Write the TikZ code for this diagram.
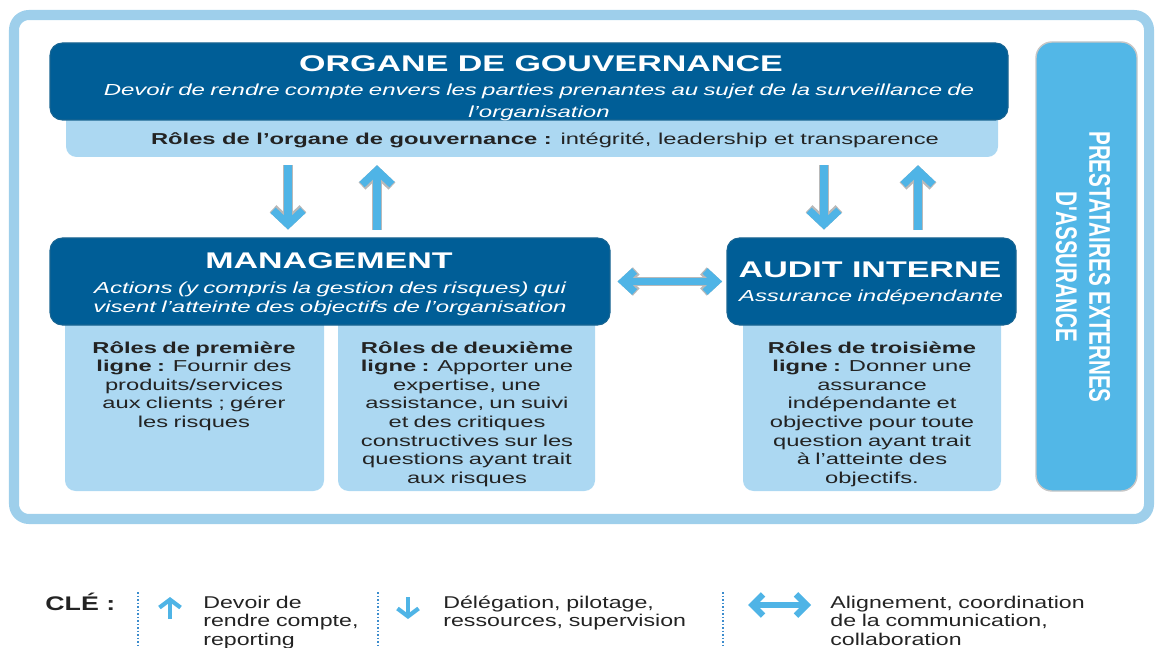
\documentclass[tikz,border=0pt]{standalone}
\usepackage{fontspec}
\newfontfamily\widesans[FakeStretch=1.5]{Liberation Sans}
\newfontfamily\keysans[FakeStretch=1.36]{Liberation Sans}
\newfontfamily\tallsans[FakeStretch=0.69]{Liberation Sans}
\usetikzlibrary{arrows.meta,positioning,fit}

\definecolor{govblue}{RGB}{0,94,151}
\definecolor{rolesblue}{RGB}{172,216,242}
\definecolor{frameblue}{RGB}{158,207,235}
\definecolor{arrowblue}{RGB}{79,180,230}
\definecolor{extblue}{RGB}{82,183,231}
\definecolor{keyline}{RGB}{60,140,205}
\definecolor{inkgrey}{RGB}{35,35,35}

\tikzset{
  framebox/.style={draw=frameblue,line width=5.7pt,rounded corners=8.5pt},
  darkbox/.style={fill=govblue,draw=govblue!80!gray,line width=0.6pt,
    rounded corners=7pt,inner sep=0pt},
  rolebox/.style={fill=rolesblue,rounded corners=6pt,inner sep=0pt},
  extbox/.style={fill=extblue,draw=gray!45,line width=0.8pt,
    rounded corners=9pt,inner sep=0pt},
  headtxt/.style={text=white,inner sep=0pt,anchor=base,
    font=\widesans\bfseries\fontsize{12.9}{15}\selectfont},
  subtxt/.style={text=white,inner sep=0pt,anchor=base,align=center,
    text width=#1,font=\widesans\itshape\fontsize{9.1}{12}\selectfont},
  bandtxt/.style={text=inkgrey,inner sep=0pt,anchor=base,
    font=\widesans\fontsize{9}{11}\selectfont},
  roletxt/.style={text=inkgrey,inner sep=0pt,anchor=base,align=center,
    text width=5.2cm,font=\widesans\fontsize{9}{10.6}\selectfont},
  keytxt/.style={text=inkgrey,inner sep=0pt,anchor=base west,align=left,
    text width=6cm,font=\keysans\fontsize{9.7}{10.8}\selectfont},
  bigarrow/.style={draw=arrowblue,line width=4.3pt,
    preaction={draw=gray!55,line width=5.6pt}},
  vtip/.style={-{Straight Barb[sharp,length=8pt,width=17pt]}},
  htips/.style={{Straight Barb[sharp,length=6.5pt,width=12pt]}-{Straight Barb[sharp,length=6.5pt,width=12pt]}},
  keyarrow/.style={draw=arrowblue,line width=2.4pt,
    -{Straight Barb[sharp,length=4.5pt,width=12pt]}},
  keysep/.style={draw=keyline,line width=0.9pt,dash pattern=on 1pt off 1pt}
}

\begin{document}
\begin{tikzpicture}[x=0.02cm,y=-0.02cm]
  \useasboundingbox (0,0) rectangle (1155,648);
  \draw[framebox] (14,15) rectangle (1149,519);

  % organe de gouvernance
  \node[rolebox,fit={(66,100) (998,157)}] (band) {};
  \node[darkbox,fit={(50,43) (1008,120)}] (gov) {};
  \node[headtxt] (govtitle) at (541,72) {ORGANE DE GOUVERNANCE};
  \node[subtxt=19cm] (govsub) at (539,96)
    {Devoir de rendre compte envers les parties prenantes au sujet de la surveillance de\\
     l’organisation};
  \node[bandtxt] (bandtext) at (545,145)
    {\textbf{Rôles de l’organe de gouvernance :} intégrité, leadership et transparence};

  % roles
  \node[rolebox,fit={(65,300) (324,491)}] (role1) {};
  \node[rolebox,fit={(338,300) (595,491)}] (role2) {};
  \node[rolebox,fit={(743,300) (1001,491)}] (role3) {};

  % management et audit
  \node[darkbox,fit={(50,238) (610,325)}] (mgmt) {};
  \node[headtxt] (mgmttitle) at (329,269) {MANAGEMENT};
  \node[subtxt=11cm,font=\widesans\itshape\fontsize{9.1}{10.4}\selectfont] (mgmtsub) at (330,294)
    {Actions (y compris la gestion des risques) qui\\
     visent l’atteinte des objectifs de l’organisation};
  \node[darkbox,fit={(727,238) (1016,325)}] (audit) {};
  \node[headtxt] (audittitle) at (870,277) {AUDIT INTERNE};
  \node[subtxt=6cm] (auditsub) at (871,301) {Assurance indépendante};

  \node[roletxt] (role1txt) at (194,353)
    {\textbf{Rôles de première}\\ \textbf{ligne :} Fournir des\\ produits/services\\
     aux clients ; gérer\\ les risques};
  \node[roletxt] (role2txt) at (467,353)
    {\textbf{Rôles de deuxième}\\ \textbf{ligne :} Apporter une\\ expertise, une\\
     assistance, un suivi\\ et des critiques\\ constructives sur les\\
     questions ayant trait\\ aux risques};
  \node[roletxt] (role3txt) at (872,353)
    {\textbf{Rôles de troisième}\\ \textbf{ligne :} Donner une\\ assurance\\
     indépendante et\\ objective pour toute\\ question ayant trait\\
     à l’atteinte des\\ objectifs.};

  % prestataires externes
  \node[extbox,fit={(1036,42) (1137,491)}] (ext) {};
  \node[rotate=-90,text=white,align=center,inner sep=0pt,
    font=\tallsans\bfseries\fontsize{17}{18.8}\selectfont] (exttxt) at (1083,267)
    {PRESTATAIRES EXTERNES\\ D'ASSURANCE};

  % fleches
  \coordinate (down1) at (288,0);
  \coordinate (up1) at (377,0);
  \coordinate (down2) at (824,0);
  \coordinate (up2) at (918,0);
  \draw[bigarrow,vtip,shorten <=4.5pt,shorten >=4.5pt] (band.south -| down1) -- (mgmt.north -| down1);
  \draw[bigarrow,vtip,shorten <=4.5pt,shorten >=4.5pt] (mgmt.north -| up1) -- (band.south -| up1);
  \draw[bigarrow,vtip,shorten <=4.5pt,shorten >=4.5pt] (band.south -| down2) -- (audit.north -| down2);
  \draw[bigarrow,vtip,shorten <=4.5pt,shorten >=4.5pt] (audit.north -| up2) -- (band.south -| up2);
  \draw[bigarrow,htips,shorten <=4pt,shorten >=2.5pt] (mgmt.east) -- (audit.west);

  % cle
  \node[anchor=base west,inner sep=0pt,text=inkgrey,
    font=\keysans\bfseries\fontsize{11.2}{13}\selectfont] (cle) at (45,610) {CLÉ :};
  \foreach \x in {138,378,723}
    \draw[keysep] (\x,592) -- (\x,648);
  \coordinate (keyup1) at (170,619);
  \coordinate (keyup2) at (170,597);
  \coordinate (keydn1) at (408,597);
  \coordinate (keydn2) at (408,619);
  \coordinate (keyal1) at (748,605);
  \coordinate (keyal2) at (811,605);
  \draw[keyarrow] (keyup1) -- (keyup2);
  \draw[keyarrow] (keydn1) -- (keydn2);
  \draw[draw=arrowblue,line width=3.6pt,
    {Straight Barb[sharp,length=6pt,width=12pt]}-{Straight Barb[sharp,length=6pt,width=12pt]}]
    (keyal1) -- (keyal2);
  \node[keytxt] (key1) at (203,608) {Devoir de\\ rendre compte,\\ reporting};
  \node[keytxt] (key2) at (443,608) {Délégation, pilotage,\\ ressources, supervision};
  \node[keytxt] (key3) at (830,608) {Alignement, coordination\\ de la communication,\\ collaboration};
\end{tikzpicture}
\end{document}
